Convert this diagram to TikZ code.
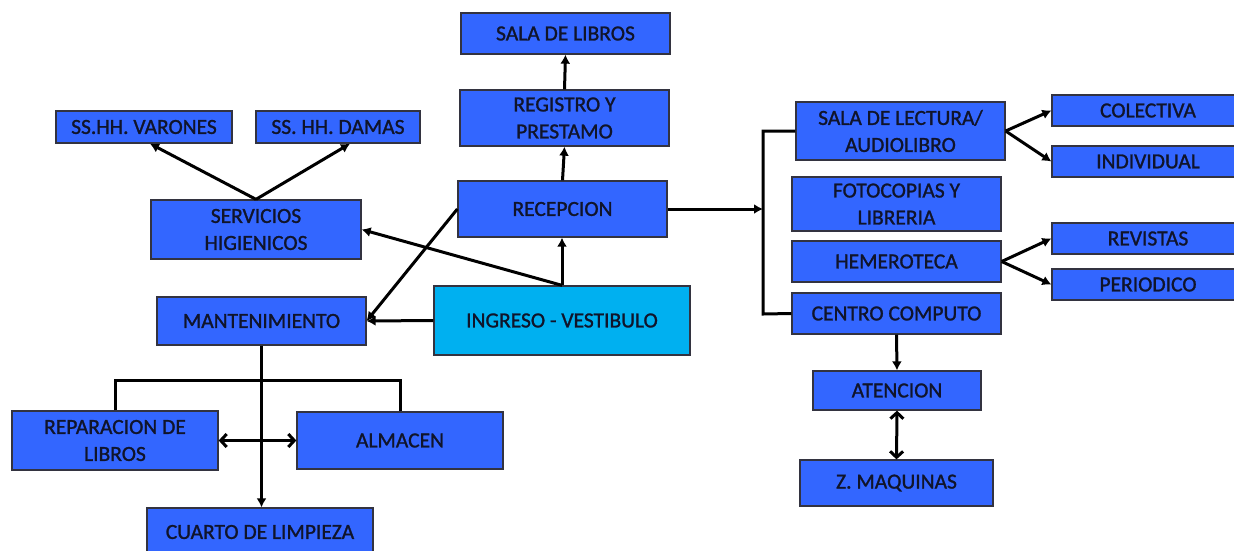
\documentclass[tikz,border=0pt]{standalone}
\usepackage{fontspec}
\setmainfont{Carlito}
\newfontfamily\boxfont[FakeBold=1.2]{Carlito}
\usetikzlibrary{arrows.meta,calc}
\definecolor{boxblue}{HTML}{3366FF}
\definecolor{cyanbox}{HTML}{00B0F0}
\definecolor{txt}{HTML}{10142A}
\definecolor{edge}{HTML}{333340}
\tikzset{
  blk/.style={draw=edge,line width=1.3pt,fill=boxblue,text=txt,align=center,
    inner sep=0pt,font=\boxfont\fontsize{21.5}{27}\selectfont},
  conn/.style={line width=3pt,draw=black,-{Latex[length=9pt,width=10pt]}},
  dbl/.style={line width=3pt,draw=black,{Straight Barb[length=6pt,width=13pt]}-{Straight Barb[length=6pt,width=13pt]}},
  plain/.style={line width=3pt,draw=black}
}
\begin{document}
\begin{tikzpicture}[x=1pt,y=-1pt]
\useasboundingbox (0,0) rectangle (1234,550);
\clip (0,0) rectangle (1234,550);
% boxes
\node[blk,minimum width=209pt,minimum height=41pt] (sala) at (565.5,33.5) {SALA DE LIBROS};
\node[blk,minimum width=209pt,minimum height=56pt] (registro) at (564.5,118) {REGISTRO Y\\PRESTAMO};
\node[blk,minimum width=209pt,minimum height=56pt] (recepcion) at (562.5,209) {RECEPCION};
\node[blk,fill=cyanbox,minimum width=256pt,minimum height=69pt] (ingreso) at (562,320.5) {INGRESO - VESTIBULO};
\node[blk,minimum width=176pt,minimum height=32pt] (varones) at (144,127) {SS.HH. VARONES};
\node[blk,minimum width=164pt,minimum height=32pt] (damas) at (338,127) {SS. HH. DAMAS};
\node[blk,minimum width=210pt,minimum height=59pt] (servicios) at (256,229.5) {SERVICIOS\\HIGIENICOS};
\node[blk,minimum width=209pt,minimum height=48pt] (mant) at (261.5,321) {MANTENIMIENTO};
\node[blk,minimum width=206pt,minimum height=59pt] (repar) at (115,440.5) {REPARACION DE\\LIBROS};
\node[blk,minimum width=206pt,minimum height=57pt] (almacen) at (400,440.5) {ALMACEN};
\node[blk,minimum width=226pt,minimum height=48pt] (cuarto) at (260,532) {CUARTO DE LIMPIEZA};
\node[blk,minimum width=209pt,minimum height=58pt] (lectura) at (900.5,131) {SALA DE LECTURA/\\AUDIOLIBRO};
\node[blk,minimum width=209pt,minimum height=54pt] (foto) at (896.5,204) {FOTOCOPIAS Y\\LIBRERIA};
\node[blk,minimum width=209pt,minimum height=41pt] (hemero) at (896.5,261.5) {HEMEROTECA};
\node[blk,minimum width=209pt,minimum height=41pt] (centro) at (896.5,313.5) {CENTRO COMPUTO};
\node[blk,minimum width=192pt,minimum height=31pt] (colectiva) at (1148,110.5) {COLECTIVA};
\node[blk,minimum width=192pt,minimum height=31pt] (individual) at (1148,161.5) {INDIVIDUAL};
\node[blk,minimum width=192pt,minimum height=31pt] (revistas) at (1148,238.5) {REVISTAS};
\node[blk,minimum width=192pt,minimum height=31pt] (periodico) at (1148,284.5) {PERIODICO};
\node[blk,minimum width=168pt,minimum height=39pt] (atencion) at (897,390.5) {ATENCION};
\node[blk,minimum width=193pt,minimum height=46pt] (zmaq) at (896.5,483) {Z. MAQUINAS};
% coordinates
\coordinate (brk) at (763,209);
\coordinate (brtop) at (763,131);
\coordinate (brbot) at (763,314);
\coordinate (mbar) at (115,380);
\coordinate (mbar2) at (400,380);
% connectors
\draw[conn] (registro.north) -- (sala.south);
\draw[conn] (recepcion.north) -- (registro.south);
\draw[conn] (ingreso.north) -- (ingreso.north |- recepcion.south);
\draw[conn] (ingreso.north) -- (servicios.east);
\draw[conn] (recepcion.west) -- (mant.east);
\draw[conn] (ingreso.west) -- (mant.east);
\draw[conn] (servicios.north) -- ([xshift=6pt]varones.south);
\draw[conn] (servicios.north) -- ([xshift=12pt]damas.south);
\draw[conn] (recepcion.east) -- (brk);
\draw[plain] (lectura.west) -- (brtop) -- (brbot) -- (centro.west);
\draw[conn] (lectura.east) -- (colectiva.west);
\draw[conn] (lectura.east) -- (individual.west);
\draw[conn] (hemero.east) -- (revistas.west);
\draw[conn] (hemero.east) -- (periodico.west);
\draw[conn] (centro.south) -- (atencion.north);
\draw[dbl] (atencion.south) -- (zmaq.north);
\draw[plain] (repar.north) -- (mbar) -- (mbar2) -- (almacen.north);
\draw[conn] (mant.south) -- (mant.south |- cuarto.north);
\draw[dbl] (repar.east) -- (almacen.west);
\end{tikzpicture}
\end{document}
